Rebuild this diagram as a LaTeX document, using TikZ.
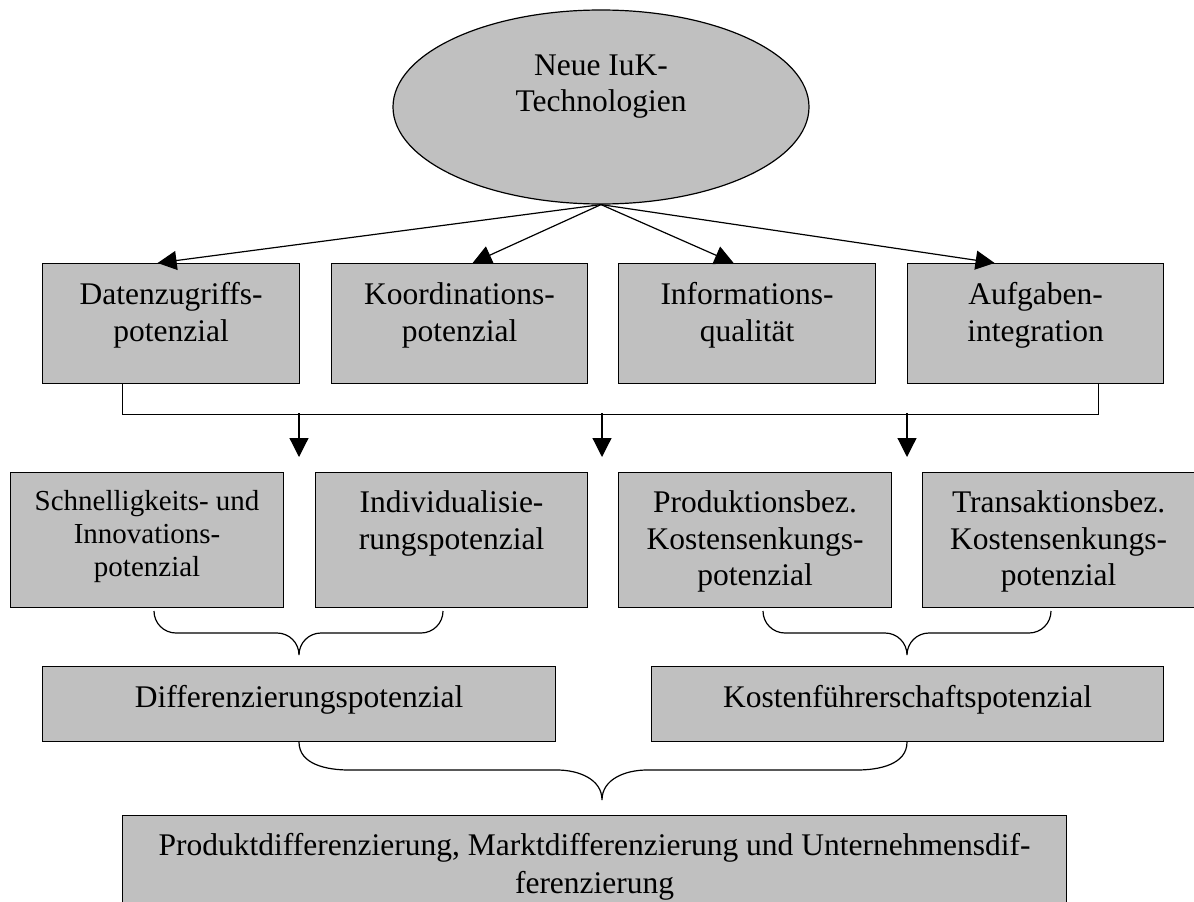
\documentclass[tikz,border=0pt]{standalone}
\usepackage{fontspec}
\setmainfont{Liberation Serif}
\usetikzlibrary{shapes.geometric,arrows.meta}
\definecolor{boxgray}{RGB}{192,192,192}
% fixed-size cell: width, height, baseline of first line below the top, text
\newcommand\boxfill[4]{\parbox[c][#2][t]{#1}{\centering\rule{0pt}{#3}#4\par}}

\begin{document}
\begin{tikzpicture}[x=1pt,y=-1pt,
  cellbox/.style={draw, fill=boxgray, line width=1.2pt, inner sep=0pt, anchor=north west},
  bigtext/.style={font=\fontsize{31.5}{36.5}\selectfont},
  smalltext/.style={font=\fontsize{29}{33}\selectfont},
  link/.style={line width=1.2pt},
  arrowlink/.style={line width=1.2pt, -{Triangle[length=19pt,width=19pt]}},
  bracket/.style={line width=1.2pt}]

\useasboundingbox (0,0) rectangle (1194,902);
\clip (0,0) rectangle (1194,902);

% source
\node[ellipse, draw, fill=boxgray, line width=1.2pt, minimum width=416pt,
      minimum height=194pt, inner sep=0pt] (iuk) at (601,107) {};
\node[bigtext, inner sep=0pt, anchor=north] (iuktext) at (601,44)
  {\parbox[t]{380pt}{\centering\rule{0pt}{31pt}Neue IuK-\\Technologien\par}};

% first level potentials
\node[cellbox, bigtext] (dz) at (42,263)  {\boxfill{257pt}{120pt}{41pt}{Datenzugriffs-\\potenzial}};
\node[cellbox, bigtext] (ko) at (331,263) {\boxfill{256pt}{120pt}{41pt}{Koordinations-\\potenzial}};
\node[cellbox, bigtext] (iq) at (618,263) {\boxfill{257pt}{120pt}{41pt}{Informations-\\qualität}};
\node[cellbox, bigtext] (ai) at (907,263) {\boxfill{256pt}{120pt}{41pt}{Aufgaben-\\integration}};

% second level potentials
\node[cellbox, smalltext] (si) at (10,472)  {\boxfill{273pt}{135pt}{38pt}{Schnelligkeits- und\\Innovations-\\potenzial}};
\node[cellbox, bigtext]   (ip) at (315,472) {\boxfill{272pt}{135pt}{40pt}{Individualisie-\\rungspotenzial}};
\node[cellbox, bigtext]   (pk) at (618,472) {\boxfill{273pt}{135pt}{40pt}{Produktionsbez.\\Kostensenkungs-\\potenzial}};
\node[cellbox, bigtext]   (tk) at (922,472) {\boxfill{272pt}{135pt}{40pt}{Transaktionsbez.\\Kostensenkungs-\\potenzial}};

% strategic potentials
\node[cellbox, bigtext] (dp) at (42,666)  {\boxfill{513pt}{75pt}{41pt}{Differenzierungspotenzial}};
\node[cellbox, bigtext] (kp) at (651,666) {\boxfill{512pt}{75pt}{41pt}{Kostenführerschaftspotenzial}};

% result
\node[cellbox, font=\fontsize{31.5}{38}\selectfont] (pm) at (122,815)
  {\boxfill{944pt}{110pt}{40pt}{Produktdifferenzierung, Marktdifferenzierung und Unternehmensdif-\\ferenzierung}};

% arrows from the source
\draw[arrowlink] (iuk.south) -- ([xshift=-13.5pt]dz.north);
\draw[arrowlink] (iuk.south) -- ([xshift=13pt]ko.north);
\draw[arrowlink] (iuk.south) -- ([xshift=-13.5pt]iq.north);
\draw[arrowlink] (iuk.south) -- ([xshift=-41pt]ai.north);

% collecting bus
\draw[link] ([xshift=-48.5pt]dz.south) -- ++(0,30) -| ([xshift=63pt]ai.south);
\coordinate (b1) at (299,413); \coordinate (t1) at (299,457);
\coordinate (b2) at (602,413); \coordinate (t2) at (602,457);
\coordinate (b3) at (907,413); \coordinate (t3) at (907,457);
\draw[arrowlink] (b1) -- (t1);
\draw[arrowlink] (b2) -- (t2);
\draw[arrowlink] (b3) -- (t3);

% curly brackets
\draw[bracket] (154,611) to[out=-90,in=180] (176,633) -- (277,633)
  to[out=0,in=90] (299,655) to[out=90,in=180] (321,633) -- (421,633)
  to[out=0,in=-90] (443,611);
\draw[bracket] (763,611) to[out=-90,in=180] (785,633) -- (885,633)
  to[out=0,in=90] (907,655) to[out=90,in=180] (929,633) -- (1029,633)
  to[out=0,in=-90] (1051,611);
\draw[bracket] (299,742) to[out=-90,in=180] (349,770) -- (557,770)
  to[out=0,in=90] (602,800) to[out=90,in=180] (647,770) -- (857,770)
  to[out=0,in=-90] (907,742);
\end{tikzpicture}
\end{document}
